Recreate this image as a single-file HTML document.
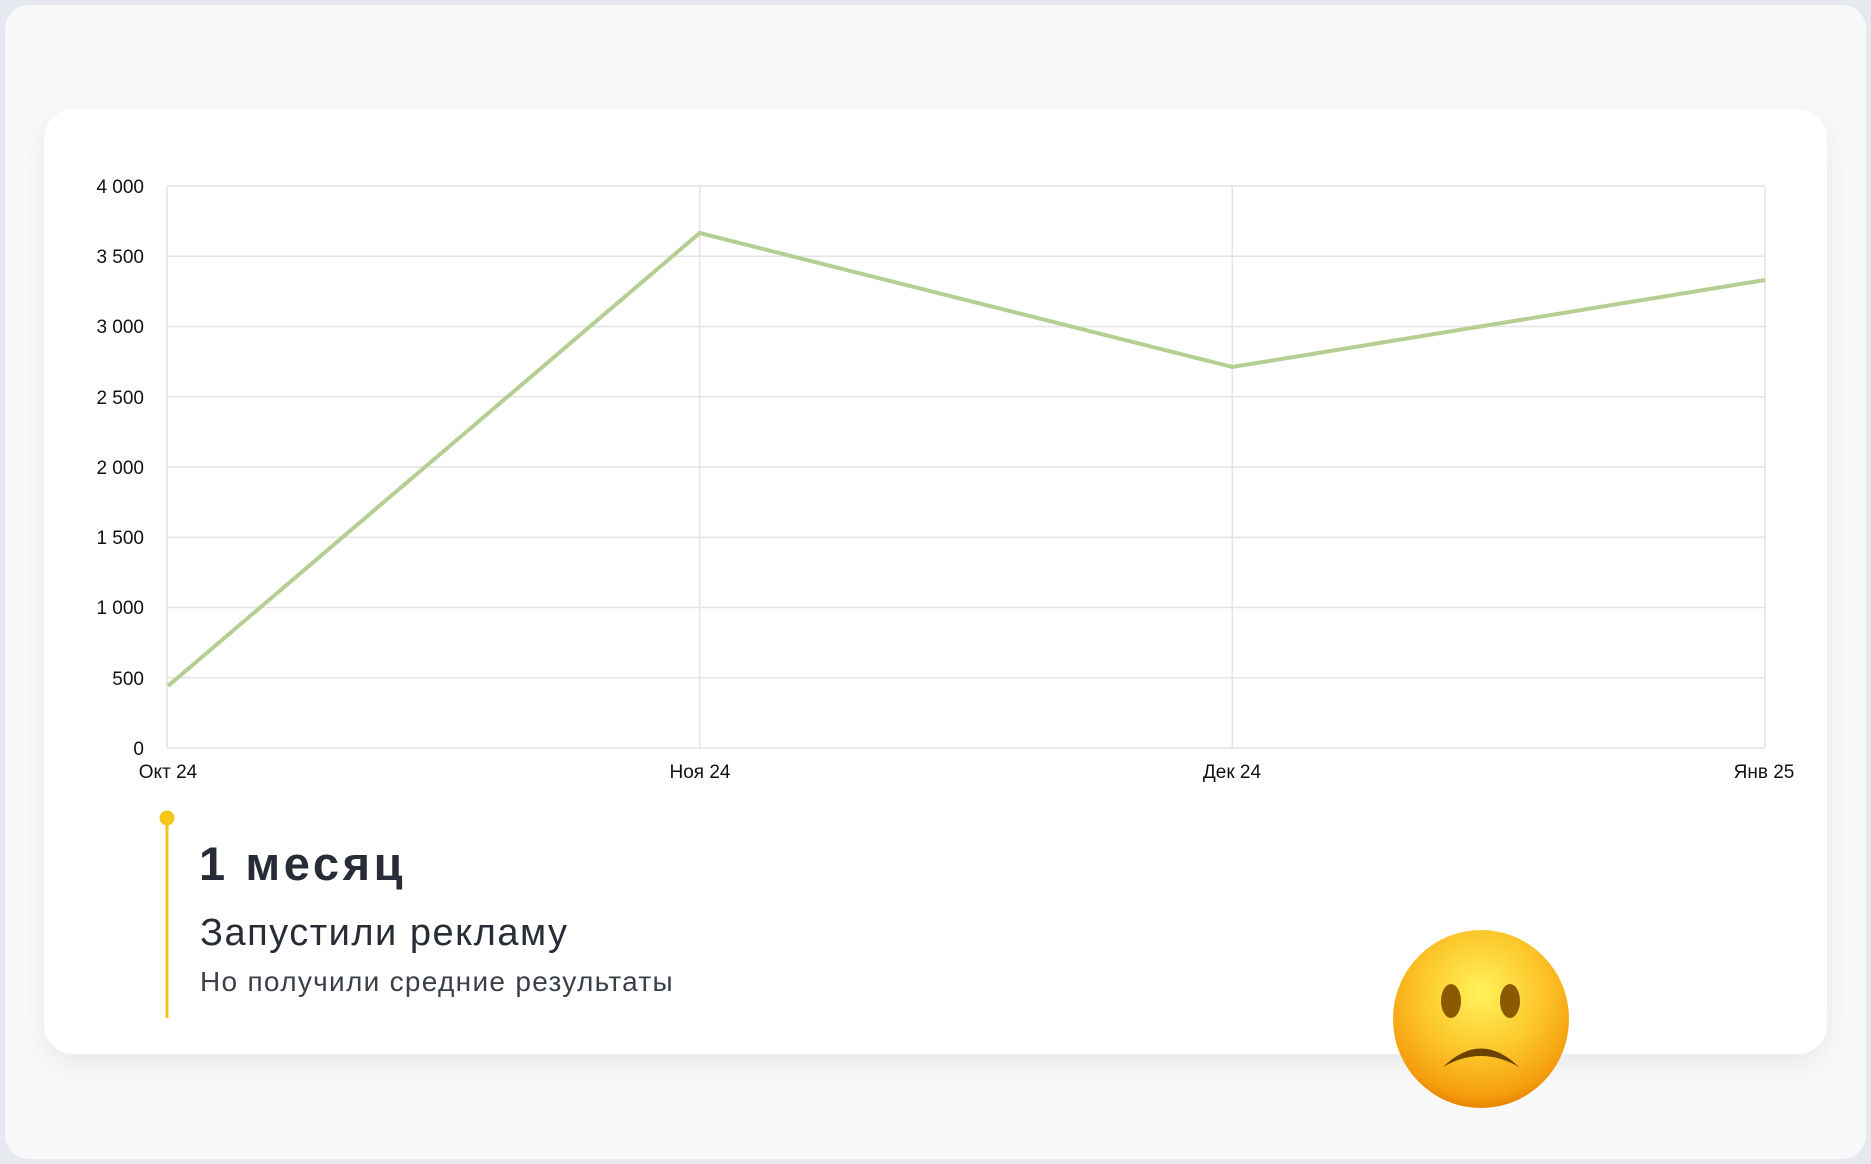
<!DOCTYPE html>
<html><head><meta charset="utf-8"><style>
html,body{margin:0;padding:0;}
body{width:1871px;height:1164px;background:#e6e9f0;position:relative;overflow:hidden;font-family:"Liberation Sans","DejaVu Sans",sans-serif;}
.frame{position:absolute;left:5px;top:5px;width:1861px;height:1154px;background:#f9f9f9;border-radius:24px;}
.card{position:absolute;left:44px;top:109px;width:1783px;height:945px;background:#fff;border-radius:29px;box-shadow:0 10px 30px rgba(0,0,0,0.07);}
.t{position:absolute;color:#272c36;white-space:nowrap;}
</style></head><body>
<div class="frame"></div>
<div class="card"></div>
<svg width="1871" height="1164" style="position:absolute;left:0;top:0">
<defs>
<radialGradient id="g" cx="50%" cy="35%" r="65%">
<stop offset="0" stop-color="#fff35a"/><stop offset="0.55" stop-color="#fcc52a"/><stop offset="0.9" stop-color="#f59d0e"/><stop offset="1" stop-color="#e88400"/>
</radialGradient>
</defs>
<g stroke="#e4e4e4" stroke-width="1.5" fill="none">
<line x1="167" y1="186" x2="1765" y2="186"/>
<line x1="167" y1="256.25" x2="1765" y2="256.25"/>
<line x1="167" y1="326.5" x2="1765" y2="326.5"/>
<line x1="167" y1="396.75" x2="1765" y2="396.75"/>
<line x1="167" y1="467" x2="1765" y2="467"/>
<line x1="167" y1="537.25" x2="1765" y2="537.25"/>
<line x1="167" y1="607.5" x2="1765" y2="607.5"/>
<line x1="167" y1="677.75" x2="1765" y2="677.75"/>
<line x1="167" y1="748" x2="1765" y2="748"/>
<line x1="167" y1="186" x2="167" y2="748"/>
<line x1="699.7" y1="186" x2="699.7" y2="748"/>
<line x1="1232.3" y1="186" x2="1232.3" y2="748"/>
<line x1="1765" y1="186" x2="1765" y2="748"/>
</g>
<polyline points="168,686 699.7,233 1232.3,367 1765,280" fill="none" stroke="#b5cf92" stroke-width="4"/>
<g font-family="Liberation Sans, DejaVu Sans, sans-serif" font-size="19" fill="#111" text-anchor="end">
<text x="144" y="193">4 000</text><text x="144" y="263">3 500</text><text x="144" y="333">3 000</text>
<text x="144" y="404">2 500</text><text x="144" y="474">2 000</text><text x="144" y="544">1 500</text>
<text x="144" y="614">1 000</text><text x="144" y="685">500</text><text x="144" y="755">0</text>
</g>
<g font-family="Liberation Sans, DejaVu Sans, sans-serif" font-size="19" fill="#111" text-anchor="middle">
<text x="168" y="778">Окт 24</text><text x="700" y="778">Ноя 24</text><text x="1232" y="778">Дек 24</text><text x="1764" y="778">Янв 25</text>
</g>
<line x1="167" y1="818" x2="167" y2="1018" stroke="#f5c518" stroke-width="3"/>
<circle cx="167" cy="818" r="7.5" fill="#f5c518"/>
<ellipse cx="1481" cy="1019" rx="88" ry="89" fill="url(#g)"/>
<ellipse cx="1451" cy="1001" rx="10" ry="17" fill="#8a5a00"/>
<ellipse cx="1510" cy="1001" rx="10" ry="17" fill="#8a5a00"/>
<path d="M1443 1067 Q1481 1030 1519 1067 Q1481 1045 1443 1067Z" fill="#6b4200"/>
</svg>
<div class="t" style="left:199px;top:836px;font-size:47px;font-weight:bold;letter-spacing:3.6px;">1 месяц</div>
<div class="t" style="left:200px;top:912px;font-size:38px;letter-spacing:1.5px;">Запустили рекламу</div>
<div class="t" style="left:200px;top:966px;font-size:28px;color:#3a3f48;letter-spacing:1.3px;">Но получили средние результаты</div>
</body></html>
